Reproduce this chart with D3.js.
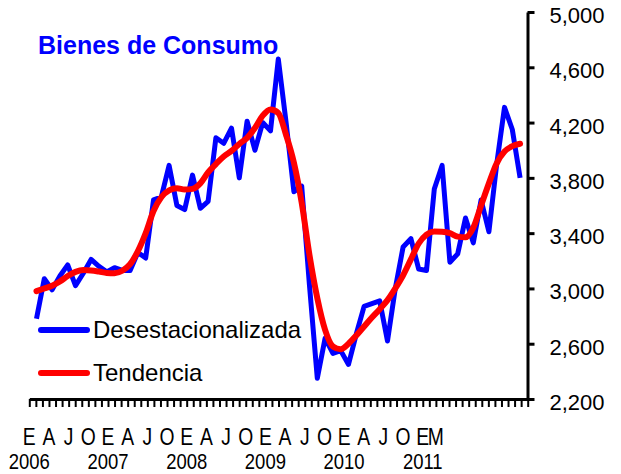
<!DOCTYPE html>
<html>
<head>
<meta charset="utf-8">
<script src="https://cdn.jsdelivr.net/npm/d3@7"></script>
<style>
  body { margin: 0; background: #fff; }
  svg { display: block; font-family: "Liberation Sans", Arial, sans-serif; }
</style>
</head>
<body>
<div id="chart"></div>
<script>
// monthly values, Jan 2006 .. Mar 2011
var desestacionalizada = [2780, 3070, 2990, 3090, 3170, 3020, 3110, 3210, 3160, 3120, 3150, 3130,
  3130, 3260, 3220, 3640, 3660, 3890, 3600, 3570, 3820, 3580, 3630, 4090,
  4050, 4160, 3800, 4210, 4000, 4200, 4140, 4660, 4200, 3700, 3740, 3020,
  2350, 2640, 2530, 2550, 2450, 2670, 2870, 2890, 2910, 2620, 3000, 3300,
  3360, 3140, 3130, 3720, 3890, 3190, 3250, 3510, 3330, 3640, 3410, 3900,
  4310, 4150, 3800]
var tendencia = [2980, 3000, 3020, 3050, 3090, 3120, 3133, 3130, 3122, 3112, 3110, 3128,
  3175, 3270, 3400, 3560, 3660, 3710, 3725, 3715, 3720, 3760, 3840, 3900,
  3955, 3995, 4045, 4090, 4160, 4250, 4295, 4270, 4110, 3910, 3620, 3240,
  2930, 2700, 2580, 2560, 2600, 2660, 2725, 2790, 2850, 2915, 3000, 3095,
  3210, 3325, 3390, 3412, 3410, 3400, 3375, 3370, 3440, 3600, 3760, 3905,
  3990, 4030, 4047]

var yTicks = [2200, 2600, 3000, 3400, 3800, 4200, 4600, 5000]
// category axis labels (index of the tick they sit under)
var monthIdx = [0, 3, 6, 9, 12, 15, 18, 21, 24, 27, 30, 33, 36, 39, 42, 45, 48, 51, 54, 57, 60, 62]
var monthText = ["E", "A", "J", "O", "E", "A", "J", "O", "E", "A", "J", "O", "E", "A", "J", "O", "E", "A", "J", "O", "E", "M"]
var yearIdx = [0, 12, 24, 36, 48, 60]
var yearText = ["2006", "2007", "2008", "2009", "2010", "2011"]
var N_TICKS = 76

var width = 621, height = 474

var svg = d3.select("#chart").append("svg")
    .attr("width", width)
    .attr("height", height)

var x = d3.scaleLinear().domain([0, desestacionalizada.length - 1]).range([36.5, 520.1])
var xt = d3.scaleLinear().domain([0, N_TICKS]).range([29.3, 527.7])
var y = d3.scaleLinear().domain([2200, 5000]).range([399, 12])

// x axis (ticks only)
var xAxis = d3.axisBottom(xt)
    .tickValues(d3.range(N_TICKS + 1))
    .tickSize(8)
    .tickSizeOuter(0)
    .tickFormat("")
var gx = svg.append("g")
    .attr("transform", "translate(0,399)")
    .call(xAxis)
gx.select(".domain").attr("stroke", "#000").attr("stroke-width", 3)
gx.selectAll(".tick line").attr("stroke", "#000").attr("stroke-width", 2)

// y axis on the right
var yAxis = d3.axisRight(y)
    .tickValues(yTicks)
    .tickSize(7)
    .tickSizeOuter(0)
    .tickPadding(15)
    .tickFormat(d3.format(","))
var gy = svg.append("g")
    .attr("transform", "translate(527.5,0)")
    .call(yAxis)
gy.select(".domain").attr("stroke", "#000").attr("stroke-width", 3)
gy.selectAll(".tick line").attr("stroke", "#000").attr("stroke-width", 3)
gy.selectAll(".tick text")
    .attr("font-family", "Liberation Sans, Arial, sans-serif")
    .attr("font-size", 22)
    .attr("fill", "#000")
    .attr("dy", "0.48em")

// month letters and years, narrow face
monthIdx.forEach(function(d, i) {
  svg.append("text")
    .attr("transform", "translate(" + xt(d) + ",445) scale(0.84,1)")
    .attr("text-anchor", "middle")
    .attr("font-size", 23)
    .text(monthText[i])
})
yearIdx.forEach(function(d, i) {
  svg.append("text")
    .attr("transform", "translate(" + xt(d) + ",469) scale(0.84,1)")
    .attr("text-anchor", "middle")
    .attr("font-size", 22)
    .text(yearText[i])
})

var line = d3.line()
    .x(function(d, i) { return x(i) })
    .y(function(d) { return y(d) })

svg.append("path")
    .datum(desestacionalizada)
    .attr("fill", "none")
    .attr("stroke", "#0000ff")
    .attr("stroke-width", 5)
    .attr("stroke-linejoin", "round")
    .attr("d", line)

svg.append("path")
    .datum(tendencia)
    .attr("fill", "none")
    .attr("stroke", "#ff0000")
    .attr("stroke-width", 6)
    .attr("stroke-linejoin", "round")
    .attr("stroke-linecap", "round")
    .attr("d", line.curve(d3.curveMonotoneX))

// title
svg.append("text")
    .attr("x", 38)
    .attr("y", 54)
    .attr("font-size", 25)
    .attr("font-weight", "bold")
    .attr("fill", "#0000ff")
    .text("Bienes de Consumo")

// legend
var legend = [
  {name: "Desestacionalizada", color: "#0000ff", y: 330},
  {name: "Tendencia", color: "#ff0000", y: 373}
]
legend.forEach(function(l) {
  svg.append("line")
    .attr("x1", 41).attr("x2", 87)
    .attr("y1", l.y).attr("y2", l.y)
    .attr("stroke", l.color)
    .attr("stroke-width", 6)
    .attr("stroke-linecap", "round")
  svg.append("text")
    .attr("x", 93)
    .attr("y", l.y + 8)
    .attr("font-size", 24)
    .attr("fill", "#000")
    .text(l.name)
})
</script>
</body>
</html>
